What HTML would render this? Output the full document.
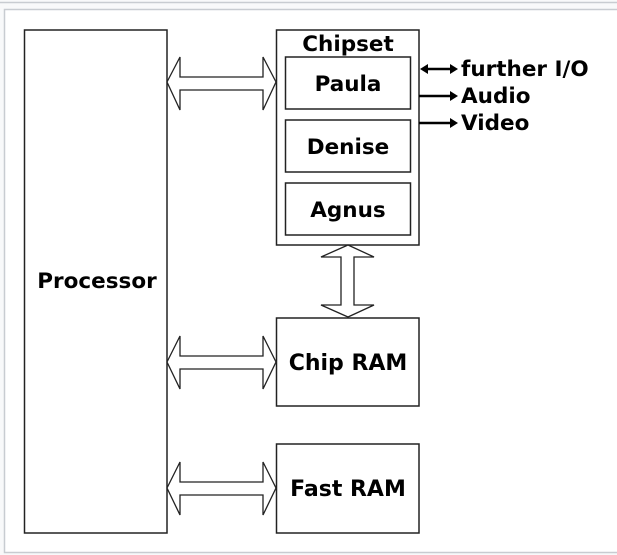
<!DOCTYPE html>
<html><head><meta charset="utf-8"><style>
html,body{margin:0;padding:0;width:617px;height:555px;overflow:hidden;background:#f8f9fa}
svg{display:block}
text{font-family:"DejaVu Sans","Liberation Sans",sans-serif;font-weight:bold;fill:#000}
</style></head><body>
<svg width="617" height="555" viewBox="0 0 617 555">
<rect x="0" y="0" width="617" height="555" fill="#f8f9fa"/>
<line x1="0" y1="2.5" x2="617" y2="2.5" stroke="#c8ccd1" stroke-width="1.5"/>
<rect x="4.5" y="9.5" width="620" height="543" fill="#fff" stroke="#c8ccd1" stroke-width="1.5"/>
<g fill="none" stroke="#222" stroke-width="1.5">
<rect x="24.5" y="30" width="142.5" height="503"/>
<rect x="276.5" y="30" width="142.5" height="215"/>
<rect x="285.5" y="57" width="125" height="52"/>
<rect x="285.5" y="120" width="125" height="52"/>
<rect x="285.5" y="183" width="125" height="52"/>
<rect x="276.5" y="318" width="142.5" height="88"/>
<rect x="276.5" y="444" width="142.5" height="89"/>
</g>
<g fill="#fff" stroke="#222" stroke-width="1.3" stroke-linejoin="miter">
<polygon points="167,82 180,57 180,77 263,77 263,57 276,82 263,110 263,90 180,90 180,110"/>
<polygon points="167,362 180,336 180,356 263,356 263,336 276,362 263,389 263,369 180,369 180,389"/>
<polygon points="167,488 180,462 180,482 263,482 263,462 276,488 263,515 263,495 180,495 180,515"/>
<polygon points="348,245 374,257 354,257 354,305 374,305 348,317 321,305 341,305 341,257 321,257"/>
</g>
<g stroke="#000" stroke-width="2.5" fill="#000">
<line x1="424" y1="69" x2="452" y2="69"/>
<polygon points="420,69 428,64 428,74" stroke="none"/>
<polygon points="458,69 450,64 450,74" stroke="none"/>
<line x1="419" y1="96" x2="452" y2="96"/>
<polygon points="458,96 450,91 450,101" stroke="none"/>
<line x1="419" y1="123" x2="452" y2="123"/>
<polygon points="458,123 450,118 450,128" stroke="none"/>
</g>
<text x="97" y="288" font-size="21.5" text-anchor="middle">Processor</text>
<text x="348" y="51" font-size="21.5" text-anchor="middle">Chipset</text>
<text x="348" y="91" font-size="21.5" text-anchor="middle">Paula</text>
<text x="348" y="154" font-size="21.5" text-anchor="middle">Denise</text>
<text x="348" y="217" font-size="21.5" text-anchor="middle">Agnus</text>
<text x="348" y="370" font-size="22" text-anchor="middle">Chip RAM</text>
<text x="348" y="496" font-size="22" text-anchor="middle">Fast RAM</text>
<text x="461" y="76" font-size="21.5">further I/O</text>
<text x="461" y="103" font-size="21.5">Audio</text>
<text x="461" y="130" font-size="21.5">Video</text>
</svg>
</body></html>
